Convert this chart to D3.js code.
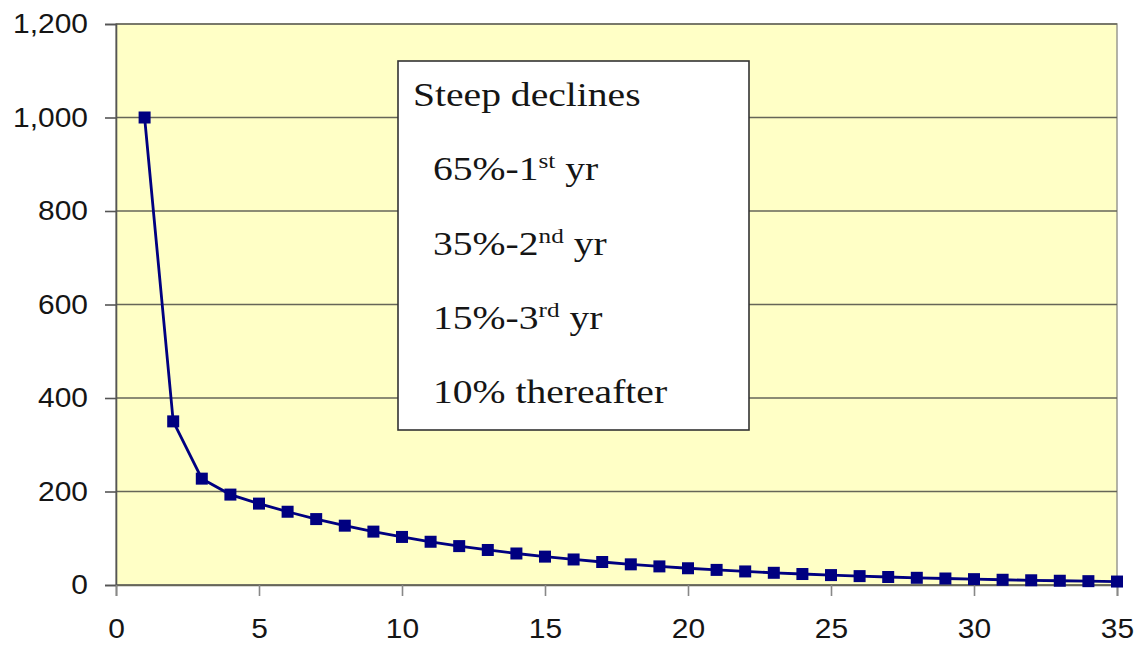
<!DOCTYPE html>
<html>
<head>
<meta charset="utf-8">
<script src="https://cdn.jsdelivr.net/npm/d3@7"></script>
<style>
  html, body { margin: 0; padding: 0; background: #fff; }
  svg { display: block; }
</style>
</head>
<body>
<svg id="chart" width="1137" height="646"></svg>
<script>
// Production by year
const years = d3.range(1, 36);
const production = [
  1000, 350, 227.5, 193.4, 174.1, 156.7, 141.0, 126.9, 114.2, 102.8,
  92.5, 83.2, 74.9, 67.4, 60.7, 54.6, 49.2, 44.2, 39.8, 35.8,
  32.3, 29.0, 26.1, 23.5, 21.2, 19.0, 17.1, 15.4, 13.9, 12.5,
  11.2, 10.1, 9.1, 8.2, 7.4
];
const xTicks = [0, 5, 10, 15, 20, 25, 30, 35];
const yTicks = [0, 200, 400, 600, 800, 1000, 1200];
const noteTitle = "Steep declines";
const noteLines = [
  ["65%-1", "st", " yr"],
  ["35%-2", "nd", " yr"],
  ["15%-3", "rd", " yr"],
  ["10% thereafter", "", ""]
];

const svg = d3.select("#chart");
const plotL = 116, plotR = 1117, plotT = 24, plotB = 585;

const x = d3.scaleLinear().domain([0, 35]).range([plotL, plotR]);
const y = d3.scaleLinear().domain([0, 1200]).range([plotB, plotT]);

const sans = "Liberation Sans, Arial, sans-serif";
const serif = "Liberation Serif, Times New Roman, serif";
const sansStretch = 1.07;   // slightly wide lettering
const serifStretch = 1.2;

// plot background
svg.append("rect")
  .attr("x", plotL).attr("y", plotT)
  .attr("width", plotR - plotL).attr("height", plotB - plotT)
  .attr("fill", "#ffffc6")
  .attr("stroke", "#9a9a90").attr("stroke-width", 1.5);

// horizontal gridlines
svg.append("g")
  .selectAll("line")
  .data(yTicks)
  .join("line")
  .attr("x1", plotL).attr("x2", plotR)
  .attr("y1", d => y(d)).attr("y2", d => y(d))
  .attr("stroke", "#666658").attr("stroke-width", 1.6);

// y axis
const yAxis = svg.append("g")
  .attr("transform", `translate(${plotL},0)`)
  .call(d3.axisLeft(y).tickValues(yTicks).tickSize(11).tickPadding(17)
    .tickFormat(d3.format(",")));
yAxis.select(".domain").attr("stroke", "#555").attr("stroke-width", 1.6);
yAxis.selectAll(".tick line").attr("stroke", "#555").attr("stroke-width", 1.6);
yAxis.selectAll(".tick text")
  .attr("fill", "#151515")
  .attr("x", -28 / sansStretch)
  .attr("transform", `scale(${sansStretch},1)`)
  .style("font-family", sans)
  .style("font-size", "28px");

// x axis
const xAxis = svg.append("g")
  .attr("transform", `translate(0,${plotB})`)
  .call(d3.axisBottom(x).tickValues(xTicks).tickSize(11).tickPadding(22));
xAxis.select(".domain").attr("stroke", "#666658").attr("stroke-width", 1.6);
xAxis.selectAll(".tick line").attr("stroke", "#888").attr("stroke-width", 1.6);
xAxis.selectAll(".tick text")
  .attr("fill", "#151515")
  .attr("transform", `scale(${sansStretch},1)`)
  .style("font-family", sans)
  .style("font-size", "28px");

// annotation box
const note = svg.append("g");
note.append("rect")
  .attr("x", 398).attr("y", 61)
  .attr("width", 351).attr("height", 369)
  .attr("fill", "#fff")
  .attr("stroke", "#333").attr("stroke-width", 1.6);

note.append("text")
  .attr("transform", `translate(413,106) scale(${serifStretch},1)`)
  .style("font-family", serif).style("font-size", "33px")
  .attr("fill", "#151515")
  .text(noteTitle);

const baselines = [180, 255, 329, 403];
noteLines.forEach((parts, i) => {
  const t = note.append("text")
    .attr("transform", `translate(433,${baselines[i]}) scale(${serifStretch},1)`)
    .style("font-family", serif).style("font-size", "33px")
    .attr("fill", "#151515");
  t.append("tspan").text(parts[0]);
  if (parts[1]) {
    t.append("tspan").attr("dy", -12).style("font-size", "21px").text(parts[1]);
    t.append("tspan").attr("dy", 12).text(parts[2]);
  }
});

// series line
const line = d3.line()
  .x((d, i) => x(years[i]))
  .y(d => y(d));

svg.append("path")
  .datum(production)
  .attr("d", line)
  .attr("fill", "none")
  .attr("stroke", "#000080")
  .attr("stroke-width", 2.8);

// square markers
const ms = 12;
svg.append("g")
  .selectAll("rect")
  .data(production)
  .join("rect")
  .attr("x", (d, i) => x(years[i]) - ms / 2)
  .attr("y", d => y(d) - ms / 2)
  .attr("width", ms).attr("height", ms)
  .attr("fill", "#000080");
</script>
</body>
</html>
